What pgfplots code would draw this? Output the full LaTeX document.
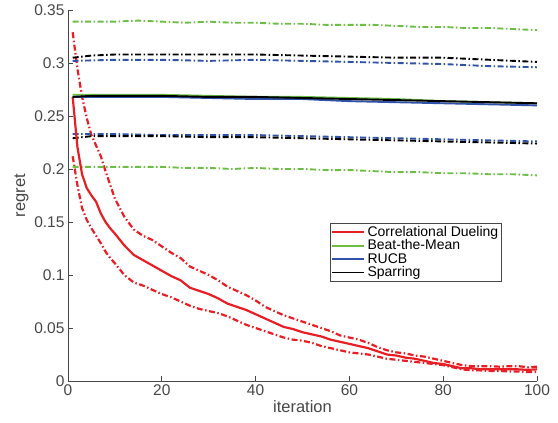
\documentclass[border=0pt]{standalone}
\usepackage{pgfplots}
\pgfplotsset{compat=1.18}
\usepackage{fontspec}
\setmainfont{Liberation Sans}

\definecolor{cdred}{RGB}{232,30,37}
\definecolor{btmgreen}{RGB}{108,190,69}
\definecolor{rucbblue}{RGB}{48,82,168}
\definecolor{axgrey}{RGB}{70,70,70}

\begin{document}
\begin{tikzpicture}[x=1pt,y=1pt]
\useasboundingbox (0,0) rectangle (558,423);
\begin{axis}[
    at={(68pt,42pt)}, anchor=origin,
    scale only axis,
    width=469pt, height=371pt,
    xmin=0, xmax=100, ymin=0, ymax=0.35,
    axis lines=left,
    axis line style={-, axgrey, line width=0.7pt},
    tick style={axgrey, line width=0.7pt},
    tick align=inside,
    major tick length=5pt,
    xtick={0,20,40,60,80,100},
    ytick={0,0.05,0.1,0.15,0.2,0.25,0.3,0.35},
    xticklabel={\pgfmathprintnumber[assume math mode=true]{\tick}},
    yticklabel={\pgfmathprintnumber[fixed,precision=2,assume math mode=true]{\tick}},
    ticklabel style={font=\fontsize{15.5}{17}\selectfont, text=axgrey},
    xlabel={iteration}, ylabel={regret},
    label style={font=\fontsize{16.5}{18}\selectfont, text=axgrey},
    xlabel style={yshift=2pt},
    ylabel style={yshift=-1pt},
    legend style={at={(0.559,0.426)}, anchor=north west, draw=axgrey,
        font=\fontsize{14}{16}\selectfont, inner sep=1pt, row sep=-2pt,
        cells={anchor=west}},
    legend cell align=left,
    legend image code/.code={\draw (0pt,0pt) -- (32pt,0pt);},
    dd/.style={dash pattern=on 6pt off 2.5pt on 1.5pt off 2.5pt},
]
% Correlational Dueling bands
\addplot[cdred, line width=2.2pt, dd, forget plot] coordinates {
(1,0.329)(2,0.295)(3,0.268)(4,0.248)(5,0.232)(6,0.222)(7,0.212)(8,0.198)(9,0.185)(10,0.172)
(12,0.155)(14,0.143)(16,0.137)(18,0.133)(20,0.127)(22,0.121)(24,0.116)(26,0.108)(28,0.104)(30,0.100)
(32,0.095)(34,0.089)(36,0.085)(38,0.081)(40,0.076)(42,0.070)(44,0.066)(46,0.062)(48,0.059)(50,0.056)
(52,0.053)(54,0.050)(56,0.047)(58,0.043)(60,0.041)(62,0.039)(64,0.036)(66,0.032)(68,0.029)(70,0.027)
(72,0.026)(74,0.024)(76,0.023)(78,0.021)(80,0.019)(82,0.017)(84,0.015)(86,0.014)(88,0.014)(90,0.014)
(92,0.0135)(94,0.014)(96,0.014)(98,0.013)(100,0.0135)};
\addplot[cdred, line width=2.2pt, dd, forget plot] coordinates {
(1,0.212)(2,0.185)(3,0.163)(4,0.152)(5,0.144)(6,0.137)(7,0.130)(8,0.122)(9,0.116)(10,0.111)
(12,0.100)(14,0.093)(16,0.090)(18,0.086)(20,0.082)(22,0.079)(24,0.075)(26,0.071)(28,0.068)(30,0.066)
(32,0.064)(34,0.061)(36,0.057)(38,0.053)(40,0.050)(42,0.047)(44,0.044)(46,0.041)(48,0.039)(50,0.038)
(52,0.036)(54,0.033)(56,0.031)(58,0.029)(60,0.027)(62,0.026)(64,0.025)(66,0.023)(68,0.021)(70,0.020)
(72,0.019)(74,0.018)(76,0.017)(78,0.016)(80,0.015)(82,0.013)(84,0.011)(86,0.010)(88,0.010)(90,0.0095)
(92,0.0095)(94,0.009)(96,0.009)(98,0.0085)(100,0.0085)};
% Beat-the-Mean bands
\addplot[btmgreen, line width=1.9pt, dd, forget plot] coordinates {
(1,0.339)(5,0.339)(10,0.339)(15,0.340)(20,0.339)(25,0.338)(30,0.339)(35,0.338)(40,0.338)(45,0.337)
(50,0.337)(55,0.336)(60,0.336)(65,0.336)(70,0.335)(75,0.334)(80,0.334)(85,0.333)(90,0.333)(95,0.332)(100,0.331)};
\addplot[btmgreen, line width=1.9pt, dd, forget plot] coordinates {
(1,0.202)(10,0.202)(20,0.202)(25,0.201)(30,0.201)(35,0.200)(40,0.201)(45,0.200)(50,0.200)(55,0.199)
(60,0.199)(65,0.198)(70,0.197)(75,0.197)(80,0.196)(85,0.196)(90,0.195)(95,0.195)(100,0.194)};
% RUCB bands
\addplot[rucbblue, line width=1.9pt, dd, forget plot] coordinates {
(1,0.302)(10,0.303)(20,0.303)(30,0.302)(40,0.303)(50,0.302)(60,0.301)(70,0.300)(80,0.299)(90,0.297)(100,0.296)};
\addplot[rucbblue, line width=1.9pt, dd, forget plot] coordinates {
(1,0.233)(10,0.233)(20,0.232)(30,0.232)(40,0.232)(50,0.231)(60,0.230)(70,0.229)(80,0.228)(90,0.227)(100,0.226)};
% Sparring bands
\addplot[black, line width=1.9pt, dd, forget plot] coordinates {
(1,0.305)(5,0.307)(10,0.308)(20,0.308)(30,0.308)(40,0.308)(50,0.307)(60,0.306)(70,0.305)(80,0.305)(90,0.303)(100,0.301)};
\addplot[black, line width=1.9pt, dd, forget plot] coordinates {
(1,0.229)(5,0.231)(10,0.231)(20,0.231)(30,0.230)(40,0.230)(50,0.229)(60,0.228)(70,0.227)(80,0.226)(90,0.225)(100,0.224)};
% means
\addplot[cdred, line width=2.2pt] coordinates {
(1,0.268)(2,0.221)(3,0.195)(4,0.182)(5,0.175)(6,0.169)(7,0.158)(8,0.150)(9,0.144)(10,0.139)
(12,0.128)(14,0.119)(16,0.114)(18,0.109)(20,0.104)(22,0.099)(24,0.095)(26,0.088)(28,0.085)(30,0.082)
(32,0.078)(34,0.073)(36,0.070)(38,0.067)(40,0.063)(42,0.059)(44,0.055)(46,0.051)(48,0.049)(50,0.046)
(52,0.044)(54,0.042)(56,0.039)(58,0.037)(60,0.035)(62,0.033)(64,0.031)(66,0.028)(68,0.025)(70,0.024)
(72,0.022)(74,0.021)(76,0.019)(78,0.017)(80,0.016)(82,0.014)(84,0.012)(86,0.012)(88,0.011)(90,0.011)
(92,0.011)(94,0.011)(96,0.011)(98,0.0105)(100,0.011)};
\addlegendentry{Correlational Dueling}
\addplot[btmgreen, line width=1.9pt] coordinates {
(1,0.270)(10,0.270)(20,0.270)(30,0.269)(40,0.268)(50,0.268)(60,0.267)(70,0.266)(80,0.264)(90,0.263)(100,0.262)};
\addlegendentry{Beat-the-Mean}
\addplot[rucbblue, line width=1.9pt] coordinates {
(1,0.268)(10,0.268)(20,0.268)(30,0.267)(40,0.266)(50,0.266)(60,0.264)(70,0.263)(80,0.262)(90,0.261)(100,0.260)};
\addlegendentry{RUCB}
\addplot[black, line width=1.9pt] coordinates {
(1,0.268)(5,0.269)(10,0.269)(20,0.269)(30,0.268)(40,0.268)(50,0.267)(60,0.266)(70,0.265)(80,0.264)(90,0.263)(100,0.262)};
\addlegendentry{Sparring}
\end{axis}
\end{tikzpicture}
\end{document}
